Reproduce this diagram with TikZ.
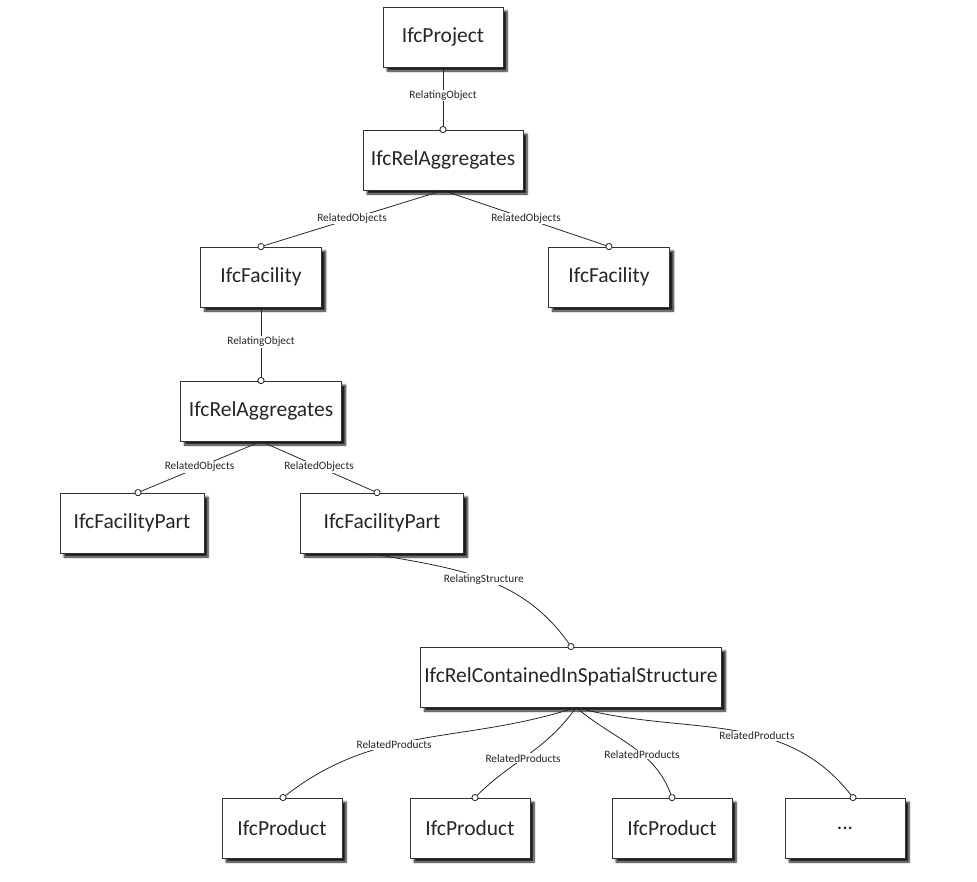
\documentclass[tikz,border=0pt]{standalone}
\usepackage{fontspec}
\setmainfont{Carlito}
\usetikzlibrary{positioning, arrows.meta, shadows.blur}

\begin{document}
\begin{tikzpicture}[
  x=1pt, y=-1pt,
  ent/.style={draw=black!80, fill=white, line width=0.9pt, minimum height=60pt, minimum width=#1,
    font=\fontsize{21.5}{25}\selectfont, text=black!85,
    blur shadow={shadow xshift=4pt, shadow yshift=-4pt, shadow blur steps=6, shadow opacity=90}},
  ent/.default=120pt,
  rel/.style={draw=black!85, line width=0.8pt, -{Circle[open, fill=white, length=7pt, width=7pt]}, shorten >=-3.5pt},
  lbl/.style={fill=white, inner sep=1pt, font=\fontsize{11.3}{13}\selectfont, text=black!85},
]
\useasboundingbox (0,0) rectangle (977,881);

% Entities
\node[ent] (project) at (443,37) {IfcProject};
\node[ent=160pt] (agg1) at (443,160) {IfcRelAggregates};
\node[ent=121pt] (fac1) at (261,277) {IfcFacility};
\node[ent=121pt] (fac2) at (609,277) {IfcFacility};
\node[ent=161pt] (agg2) at (261,411) {IfcRelAggregates};
\node[ent=144pt] (part1) at (132,523) {IfcFacilityPart};
\node[ent=163pt] (part2) at (382,523) {IfcFacilityPart};
\node[ent=301pt] (contain) at (571,677) {IfcRelContainedInSpatialStructure};
\node[ent] (prod1) at (282,828) {IfcProduct};
\node[ent] (prod2) at (470,828) {IfcProduct};
\node[ent] (prod3) at (672,828) {IfcProduct};
\node[ent] (more) at (845,828) {...};

% Relationships
\draw[rel] (project) -- node[lbl, pos=0.45] (ro1) {RelatingObject} (agg1);
\draw[rel] (agg1.south) -- node[lbl] (ob1) {RelatedObjects} (fac1.north);
\draw[rel] (agg1.south) -- node[lbl] (ob2) {RelatedObjects} (fac2.north);
\draw[rel] (fac1) -- node[lbl, pos=0.47] (ro2) {RelatingObject} (agg2);
\draw[rel] (agg2.south) -- node[lbl] (ob3) {RelatedObjects} ([xshift=6pt]part1.north);
\draw[rel] (agg2.south) -- node[lbl] (ob4) {RelatedObjects} ([xshift=-5pt]part2.north);
\draw[rel] ([xshift=-12pt]part2.south) to[out=-10, in=125] node[lbl, pos=0.5] (rs) {RelatingStructure} (contain.north);
\draw[rel] ([xshift=5pt]contain.south) to[out=198, in=38] node[lbl, pos=0.6] (rp1) {RelatedProducts} ([xshift=1pt]prod1.north);
\draw[rel] ([xshift=5pt]contain.south) to[out=235, in=45] node[lbl, pos=0.55] (rp2) {RelatedProducts} ([xshift=5pt]prod2.north);
\draw[rel] ([xshift=5pt]contain.south) to[out=-40, in=110] node[lbl, pos=0.6] (rp3) {RelatedProducts} (prod3.north);
\draw[rel] ([xshift=5pt]contain.south) to[out=-15, in=128] node[lbl, pos=0.6] (rp4) {RelatedProducts} ([xshift=8pt]more.north);
\end{tikzpicture}
\end{document}
